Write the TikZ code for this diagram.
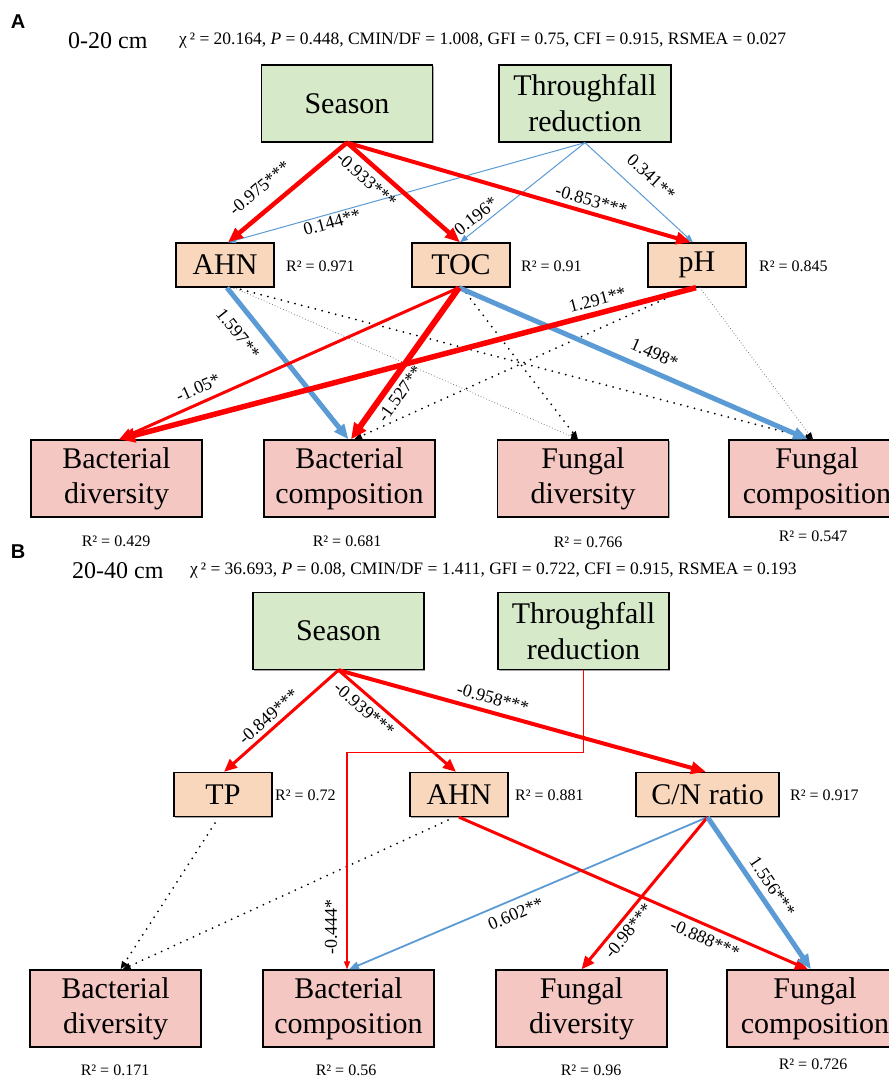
\documentclass[tikz,border=0pt]{standalone}
\usepackage{fontspec}
\setmainfont{Liberation Serif}
\newfontfamily\panelfont{Liberation Sans}
\usetikzlibrary{arrows.meta,shadows}

\definecolor{boxgreen}{RGB}{214,233,201}
\definecolor{boxorange}{RGB}{248,215,188}
\definecolor{boxpink}{RGB}{244,199,195}
\definecolor{arrred}{RGB}{255,0,0}
\definecolor{arrblue}{RGB}{91,155,213}

\tikzset{
 basebox/.style={draw=black, line width=1.3pt, inner sep=0pt, align=center,
   drop shadow={shadow xshift=1.3pt, shadow yshift=-1.3pt, fill=black, opacity=0.35}},
 topbox/.style={basebox, fill=boxgreen, minimum width=171pt, minimum height=77pt, font=\fontsize{30}{36}\selectfont},
 midbox/.style={basebox, fill=boxorange, minimum width=98pt, minimum height=44pt, font=\fontsize{30}{36}\selectfont},
 botbox/.style={basebox, fill=boxpink, minimum width=171pt, minimum height=77pt, font=\fontsize{30}{35}\selectfont},
 rsq/.style={font=\fontsize{16}{19}\selectfont, inner sep=0pt},
 coef/.style={font=\fontsize{18}{21}\selectfont, inner sep=0pt, sloped},
 coeflab/.style={font=\fontsize{18}{21}\selectfont, inner sep=0pt},
 redxl/.style={draw=arrred, line width=6pt, -{Triangle[length=16pt,width=14pt]}},
 redl/.style={draw=arrred, line width=4.5pt, -{Triangle[length=15pt,width=12pt]}},
 redm/.style={draw=arrred, line width=3pt, -{Triangle[length=13pt,width=11pt]}},
 redthin/.style={draw=arrred, line width=1.2pt, -{Triangle[length=8pt,width=6pt]}},
 bluel/.style={draw=arrblue, line width=5pt, -{Triangle[length=15pt,width=12pt]}},
 bluem/.style={draw=arrblue, line width=1.8pt, -{Triangle[length=10pt,width=8pt]}},
 bluethin/.style={draw=arrblue, line width=1pt, -{Triangle[length=8pt,width=6pt]}},
 dotarr/.style={draw=black, line width=2pt, dash pattern=on 0pt off 7pt, line cap=round, -{Triangle[length=8pt,width=6pt]}},
 dotthin/.style={draw=black!60, line width=1pt, dash pattern=on 0pt off 3pt, line cap=round, -{Triangle[length=7pt,width=5pt,color=black]}},
}

\begin{document}
\begin{tikzpicture}[x=1pt,y=-1pt]
\useasboundingbox (0,0) rectangle (889,1077);
\fill[white] (0,0) rectangle (889,1077);
\clip (0,0) rectangle (889,1077);

% ---------------- Panel A ----------------
\node[font={\fontsize{20}{24}\panelfont\bfseries}] (labA) at (18,22) {A};
\node[anchor=west, font=\fontsize{24}{28}\selectfont, inner sep=0pt] (depA) at (68,41) {0-20 cm};
\node[anchor=west, font=\fontsize{17.5}{20}\selectfont, inner sep=0pt] (statA) at (179,41) {χ\,² = 20.164, \textit{P} = 0.448, CMIN/DF = 1.008, GFI = 0.75, CFI = 0.915, RSMEA = 0.027};

\node[topbox] (SeA) at (347,103.5) {Season};
\node[topbox, minimum width=172pt] (TrA) at (585,103.5) {Throughfall\\reduction};

\node[midbox] (AHNA) at (225,265) {AHN};
\node[midbox] (TOCA) at (461,265) {TOC};
\node[midbox] (pHA) at (697,265) {pH};
\node[rsq, anchor=west] (rAHNA) at (286,266) {R² = 0.971};
\node[rsq, anchor=west] (rTOCA) at (521,266) {R² = 0.91};
\node[rsq, anchor=west] (rpHA) at (759,266) {R² = 0.845};

\node[botbox] (BDA) at (116.5,478.5) {Bacterial\\diversity};
\node[botbox] (BCA) at (349.5,478.5) {Bacterial\\composition};
\node[botbox] (FDA) at (583,478.5) {Fungal\\diversity};
\node[botbox, minimum width=176pt] (FCA) at (817,478.5) {Fungal\\composition};
\node[rsq] (rBDA) at (116,541) {R² = 0.429};
\node[rsq] (rBCA) at (347,541) {R² = 0.681};
\node[rsq] (rFDA) at (588,542) {R² = 0.766};
\node[rsq] (rFCA) at (813,536) {R² = 0.547};

% connectors A
\draw[dotthin] ([xshift=9pt]AHNA.south) -- ([xshift=-5pt]FDA.north);
\draw[dotarr] ([xshift=9pt]AHNA.south) -- ([xshift=-4pt]FCA.north);
\draw[dotarr] ([xshift=1pt]TOCA.south) -- ([xshift=-5pt]FDA.north);
\draw[dotarr] ([xshift=-7pt]pHA.south) -- ([xshift=4.5pt]BCA.north);
\draw[dotthin] ([xshift=3pt]pHA.south) -- ([xshift=-4pt]FCA.north);

\draw[bluethin] (TrA.south) -- ([xshift=3pt]AHNA.north) node[coef,pos=0.715,below=2pt]{0.144**};
\draw[bluethin] (TrA.south) -- ([xshift=-1pt]TOCA.north) node[coef,pos=0.82,above=4pt]{0.196*};
\draw[bluethin] (TrA.south) -- ([xshift=-4pt]pHA.north) node[coef,pos=0.49,above=13pt]{0.341**};
\draw[redl] (SeA.south) -- ([xshift=3pt]AHNA.north) node[coef,pos=0.62,above=13pt]{-0.975***};
\draw[redl] (SeA.south) -- ([xshift=-1pt]TOCA.north) node[coef,pos=0.26,below=6.5pt]{-0.933***};
\draw[redl, line width=4pt] (SeA.south) -- ([xshift=-6pt]pHA.north) node[coef,pos=0.70,above=4.5pt]{-0.853***};

\draw[bluel] ([xshift=2pt]AHNA.south) -- ([xshift=-1pt]BCA.north) node[coef,pos=0.22,below=11.5pt]{1.597**};
\draw[bluel] ([xshift=-2pt]TOCA.south) -- ([xshift=-9pt]FCA.north) node[coef,pos=0.54,above=9pt]{1.498*};
\draw[redm] ([xshift=-2pt]TOCA.south) -- ([xshift=2.5pt]BDA.north) node[coef,pos=0.75,above=7pt]{-1.05*};
\draw[redxl, line width=5.5pt] ([xshift=-1pt]pHA.south) -- ([xshift=2.5pt]BDA.north) node[coef,pos=0.165,above=4.5pt]{1.291**};
\draw[redxl] ([xshift=-2pt]TOCA.south) -- ([xshift=1.5pt]BCA.north) node[coef,pos=0.65,below=4.5pt]{-1.527**};

% ---------------- Panel B ----------------
\node[font={\fontsize{20}{24}\panelfont\bfseries}] (labB) at (18,552) {B};
\node[anchor=west, font=\fontsize{24}{28}\selectfont, inner sep=0pt] (depB) at (72,571) {20-40 cm};
\node[anchor=west, font=\fontsize{17.5}{20}\selectfont, inner sep=0pt] (statB) at (190,571) {χ\,² = 36.693, \textit{P} = 0.08, CMIN/DF = 1.411, GFI = 0.722, CFI = 0.915, RSMEA = 0.193};

\node[topbox] (SeB) at (338.5,631) {Season};
\node[topbox] (TrB) at (583.5,631) {Throughfall\\reduction};

\node[midbox] (TPB) at (223,794.5) {TP};
\node[midbox] (AHNB) at (459,794.5) {AHN};
\node[midbox, minimum width=143pt] (CNB) at (707.5,794.5) {C/N ratio};
\node[rsq, anchor=west] (rTPB) at (275,795) {R² = 0.72};
\node[rsq, anchor=west] (rAHNB) at (515,795) {R² = 0.881};
\node[rsq, anchor=west] (rCNB) at (790,795) {R² = 0.917};

\node[botbox] (BDB) at (115.5,1008.5) {Bacterial\\diversity};
\node[botbox] (BCB) at (348.5,1008.5) {Bacterial\\composition};
\node[botbox] (FDB) at (581.5,1008.5) {Fungal\\diversity};
\node[botbox, minimum width=176pt] (FCB) at (815,1008.5) {Fungal\\composition};
\node[rsq] (rBDB) at (115,1070) {R² = 0.171};
\node[rsq] (rBCB) at (346,1070) {R² = 0.56};
\node[rsq] (rFDB) at (591,1070) {R² = 0.96};
\node[rsq] (rFCB) at (813,1064) {R² = 0.726};

% connectors B
\draw[dotarr] ([xshift=-8pt,yshift=-6pt]TPB.south) -- ([xshift=5pt]BDB.north);
\draw[dotarr] ([xshift=-11pt,yshift=-3pt]AHNB.south) -- ([xshift=7pt]BDB.north);

\draw[redm] (SeB.south) -- ([xshift=1pt]TPB.north) node[coef,pos=0.545,above=4pt]{-0.849***};
\draw[redm] (SeB.south) -- ([xshift=-3pt]AHNB.north) node[coef,pos=0.29,below=5pt]{-0.939***};
\draw[redl, line width=4pt] (SeB.south) -- ([xshift=-1.5pt]CNB.north) node[coef,pos=0.41,above=6pt]{-0.958***};
\draw[redthin] (TrB.south) -- ++(0,82) -| ([xshift=-1.5pt]BCB.north);
\node[coeflab, rotate=90] (l444) at (331,927) {-0.444*};

\draw[bluem] (CNB.south) -- ([xshift=0.5pt]BCB.north) node[coef,pos=0.55,below=7pt]{0.602**};
\draw[redm] (AHNB.south) -- ([xshift=-7pt]FCB.north) node[coef,pos=0.72,below=5.5pt]{-0.888***};
\draw[redm] (CNB.south) -- (FDB.north) node[coef,pos=0.70,below=4pt]{-0.98***};
\draw[bluel] (CNB.south) -- ([xshift=-4pt]FCB.north) node[coef,pos=0.51,above=6pt]{1.556***};
\end{tikzpicture}
\end{document}
